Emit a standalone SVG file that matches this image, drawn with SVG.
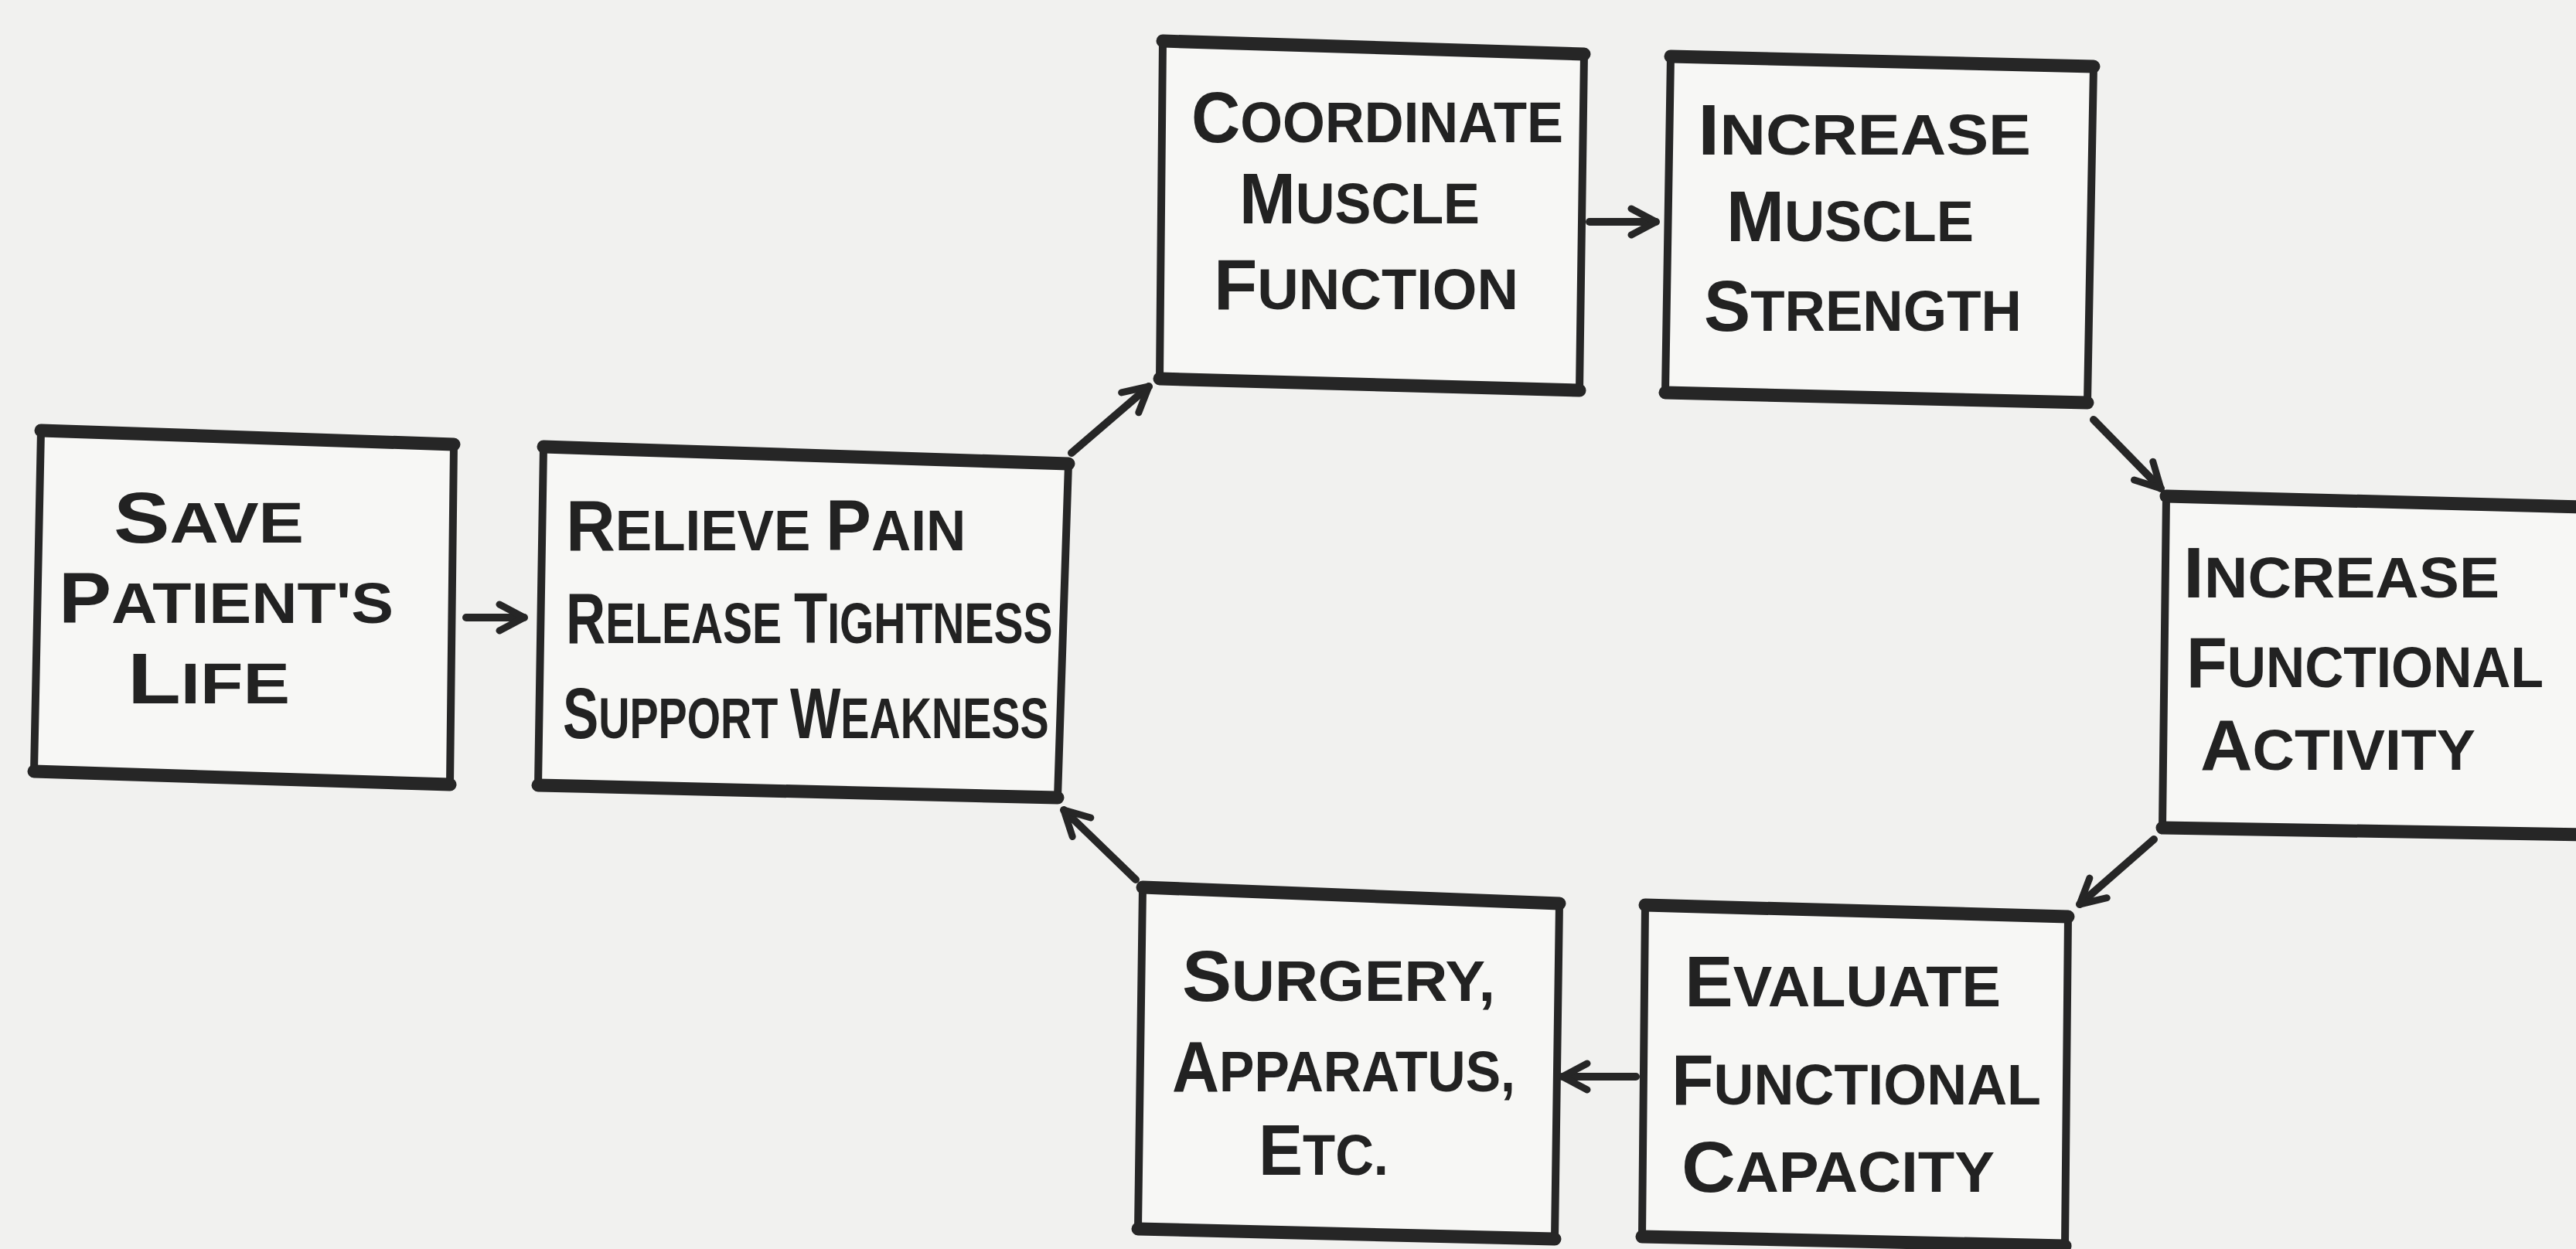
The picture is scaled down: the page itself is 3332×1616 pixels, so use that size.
<svg xmlns="http://www.w3.org/2000/svg" width="3332" height="1616" viewBox="0 0 3332 1616">
<style>
.bg{fill:#f1f1ef}
.box{fill:#f7f7f5;stroke:#262626;stroke-width:10;stroke-linejoin:round}
.edge{stroke:#262626;stroke-width:17;stroke-linecap:round;fill:none}
.lbl{font-family:"Liberation Sans",Arial,sans-serif;font-weight:bold;font-size:74px;fill:#222}
.b{font-size:92px}
.conn{stroke:#262626;stroke-width:10;fill:none;stroke-linecap:round}
</style>
<defs>
<marker id="ah" viewBox="0 0 44 44" refX="40" refY="22" markerWidth="44" markerHeight="44" markerUnits="userSpaceOnUse" orient="auto">
<path d="M8,5 L40,22 L8,39" fill="none" stroke="#262626" stroke-width="9" stroke-linecap="round" stroke-linejoin="round"/>
</marker>
</defs>
<rect class="bg" x="0" y="0" width="3332" height="1616"/>

<g id="n1">
<polygon class="box" points="53,557 587,575 582,1015 44,998"/>
<path class="edge" d="M53,557 L587,575 M44,998 L582,1015"/>
<text class="lbl" x="147" y="702" textLength="246" lengthAdjust="spacingAndGlyphs"><tspan class="b">S</tspan>AVE</text>
<text class="lbl" x="76" y="806" textLength="433" lengthAdjust="spacingAndGlyphs"><tspan class="b">P</tspan>ATIENT'S</text>
<text class="lbl" x="165" y="910" textLength="210" lengthAdjust="spacingAndGlyphs"><tspan class="b">L</tspan>IFE</text>
</g>

<g id="n2">
<polygon class="box" points="703,578 1382,600 1368,1032 696,1016"/>
<path class="edge" d="M703,578 L1382,600 M696,1016 L1368,1032"/>
<text class="lbl" transform="translate(732,712) scale(0.96,1)" x="0" y="0"><tspan class="b">R</tspan>ELIEVE <tspan class="b">P</tspan>AIN</text>
<text class="lbl" transform="translate(732,832) scale(0.77,1)" x="0" y="0"><tspan class="b">R</tspan>ELEASE <tspan class="b">T</tspan>IGHTNESS</text>
<text class="lbl" transform="translate(728,955) scale(0.753,1)" x="0" y="0"><tspan class="b">S</tspan>UPPORT <tspan class="b">W</tspan>EAKNESS</text>
</g>

<g id="n3">
<polygon class="box" points="1504,53 2049,70 2043,505 1500,490"/>
<path class="edge" d="M1504,53 L2049,70 M1500,490 L2043,505"/>
<text class="lbl" x="1541" y="184" textLength="481" lengthAdjust="spacingAndGlyphs"><tspan class="b">C</tspan>OORDINATE</text>
<text class="lbl" x="1603" y="289" textLength="311" lengthAdjust="spacingAndGlyphs"><tspan class="b">M</tspan>USCLE</text>
<text class="lbl" x="1570" y="400" textLength="394" lengthAdjust="spacingAndGlyphs"><tspan class="b">F</tspan>UNCTION</text>
</g>

<g id="n4">
<polygon class="box" points="2161,73 2708,86 2700,521 2154,508"/>
<path class="edge" d="M2161,73 L2708,86 M2154,508 L2700,521"/>
<text class="lbl" x="2196" y="200" textLength="431" lengthAdjust="spacingAndGlyphs"><tspan class="b">I</tspan>NCREASE</text>
<text class="lbl" x="2233" y="312" textLength="320" lengthAdjust="spacingAndGlyphs"><tspan class="b">M</tspan>USCLE</text>
<text class="lbl" x="2204" y="428" textLength="411" lengthAdjust="spacingAndGlyphs"><tspan class="b">S</tspan>TRENGTH</text>
</g>

<g id="n5">
<polygon class="box" points="2802,642 3345,656 3345,1080 2797,1071"/>
<path class="edge" d="M2802,642 L3345,656 M2797,1071 L3345,1080"/>
<text class="lbl" x="2824" y="773" textLength="409" lengthAdjust="spacingAndGlyphs"><tspan class="b">I</tspan>NCREASE</text>
<text class="lbl" x="2828" y="889" textLength="462" lengthAdjust="spacingAndGlyphs"><tspan class="b">F</tspan>UNCTIONAL</text>
<text class="lbl" x="2846" y="996" textLength="356" lengthAdjust="spacingAndGlyphs"><tspan class="b">A</tspan>CTIVITY</text>
</g>

<g id="n6">
<polygon class="box" points="2128,1171 2675,1186 2671,1612 2124,1600"/>
<path class="edge" d="M2128,1171 L2675,1186 M2124,1600 L2671,1612"/>
<text class="lbl" x="2179" y="1302" textLength="409" lengthAdjust="spacingAndGlyphs"><tspan class="b">E</tspan>VALUATE</text>
<text class="lbl" x="2162" y="1429" textLength="478" lengthAdjust="spacingAndGlyphs"><tspan class="b">F</tspan>UNCTIONAL</text>
<text class="lbl" x="2175" y="1542" textLength="405" lengthAdjust="spacingAndGlyphs"><tspan class="b">C</tspan>APACITY</text>
</g>

<g id="n7">
<polygon class="box" points="1478,1148 2017,1169 2011,1603 1472,1590"/>
<path class="edge" d="M1478,1148 L2017,1169 M1472,1590 L2011,1603"/>
<text class="lbl" x="1529" y="1295" textLength="405" lengthAdjust="spacingAndGlyphs"><tspan class="b">S</tspan>URGERY,</text>
<text class="lbl" x="1516" y="1412" textLength="444" lengthAdjust="spacingAndGlyphs"><tspan class="b">A</tspan>PPARATUS,</text>
<text class="lbl" x="1628" y="1520" textLength="168" lengthAdjust="spacingAndGlyphs"><tspan class="b">E</tspan>TC.</text>
</g>

<g id="connectors">
<line class="conn" x1="603" y1="799" x2="678" y2="799" marker-end="url(#ah)"/>
<line class="conn" x1="1386" y1="586" x2="1486" y2="500" marker-end="url(#ah)"/>
<line class="conn" x1="2056" y1="287" x2="2142" y2="287" marker-end="url(#ah)"/>
<line class="conn" x1="2708" y1="543" x2="2795" y2="632" marker-end="url(#ah)"/>
<line class="conn" x1="2786" y1="1086" x2="2690" y2="1170" marker-end="url(#ah)"/>
<line class="conn" x1="2116" y1="1393" x2="2021" y2="1393" marker-end="url(#ah)"/>
<line class="conn" x1="1469" y1="1138" x2="1376" y2="1048" marker-end="url(#ah)"/>
</g>
</svg>
